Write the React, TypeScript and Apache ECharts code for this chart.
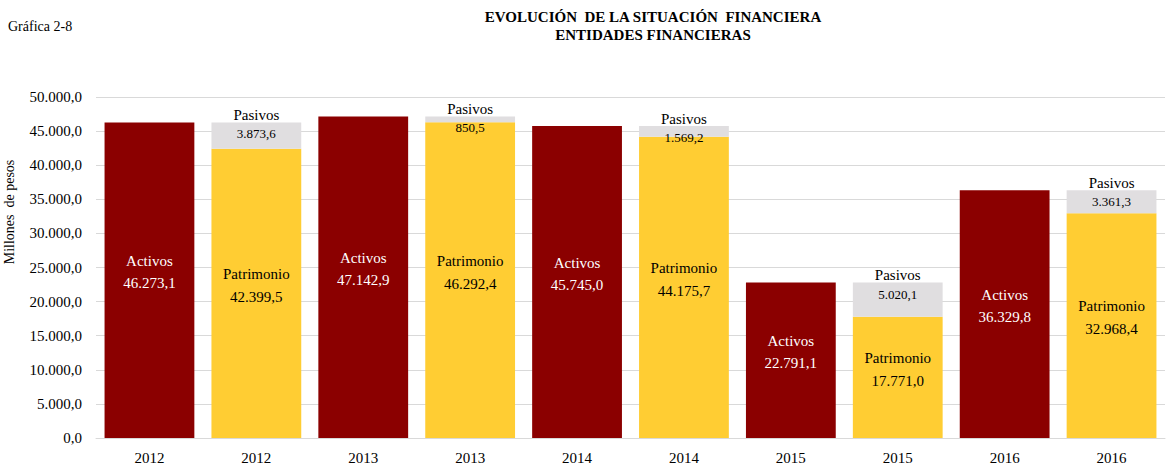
import React, { useEffect, useRef } from "react";
import * as echarts from "echarts";

const categories = ["2012", "2012", "2013", "2013", "2014", "2014", "2015", "2015", "2016", "2016"];
const activos = [46273.1, null, 47142.9, null, 45745.0, null, 22791.1, null, 36329.8, null];
const patrimonio = [null, 42399.5, null, 46292.4, null, 44175.7, null, 17771.0, null, 32968.4];
const pasivos = [null, 3873.6, null, 850.5, null, 1569.2, null, 5020.1, null, 3361.3];
const yTicks = { min: 0, max: 50000, interval: 5000 };

const FONT = "Liberation Serif";

function fmt(v: number, dec = 1): string {
  const s = v.toFixed(dec);
  const [i, d] = s.split(".");
  const ii = i.replace(/\B(?=(\d{3})+(?!\d))/g, ".");
  return d ? ii + "," + d : ii;
}

export default function App() {
  const ref = useRef<HTMLDivElement>(null);
  useEffect(() => {
    if (!ref.current) return;
    const chart = echarts.init(ref.current, null, { renderer: "svg" });
    chart.setOption({
      animation: false,
      backgroundColor: "#ffffff",
      textStyle: { fontFamily: FONT },
      graphic: [
        { type: "text", left: 8, top: 19, style: { text: "Gráfica 2-8", fontFamily: FONT, fontSize: 14, fill: "#000" } },
        {
          type: "text", x: 653, y: 9,
          style: { text: "EVOLUCIÓN  DE LA SITUACIÓN  FINANCIERA", fontFamily: FONT, fontSize: 15, fontWeight: "bold", fill: "#000", align: "center" },
        },
        {
          type: "text", x: 653, y: 27,
          style: { text: "ENTIDADES FINANCIERAS", fontFamily: FONT, fontSize: 15, fontWeight: "bold", fill: "#000", align: "center" },
        },
        {
          type: "text", x: 2, y: 212, rotation: Math.PI / 2,
          style: { text: "Millones  de pesos", fontFamily: FONT, fontSize: 14, fill: "#000", align: "center", verticalAlign: "top" },
        },
      ],
      grid: { left: 96, right: 5, top: 97, bottom: 30, containLabel: false },
      xAxis: {
        type: "category",
        data: categories,
        axisLine: { show: true, lineStyle: { color: "#D9D9D9" } },
        axisTick: { show: false },
        axisLabel: { fontFamily: FONT, fontSize: 15, color: "#000", margin: 12 },
      },
      yAxis: {
        type: "value",
        min: yTicks.min,
        max: yTicks.max,
        interval: yTicks.interval,
        axisLine: { show: false },
        axisTick: { show: false },
        splitLine: { lineStyle: { color: "#D9D9D9" } },
        axisLabel: { fontFamily: FONT, fontSize: 15, color: "#000", margin: 14, formatter: (v: number) => fmt(v) },
      },
      series: [
        {
          name: "Activos",
          type: "bar",
          stack: "s",
          barCategoryGap: "16%",
          data: activos,
          itemStyle: { color: "#8B0000" },
          label: {
            show: true,
            position: "inside",
            offset: [0, -8],
            formatter: (p: any) => `{a|Activos}\n{a|${fmt(p.value)}}`,
            rich: { a: { fontFamily: FONT, fontSize: 15, color: "#ffffff", lineHeight: 22 } },
          },
        },
        {
          name: "Patrimonio",
          type: "bar",
          stack: "s",
          barCategoryGap: "16%",
          data: patrimonio,
          itemStyle: { color: "#FFCD33" },
          label: {
            show: true,
            position: "inside",
            offset: [0, -8],
            formatter: (p: any) => `{a|Patrimonio}\n{a|${fmt(p.value)}}`,
            rich: { a: { fontFamily: FONT, fontSize: 15, color: "#000", lineHeight: 23 } },
          },
        },
        {
          name: "Pasivos",
          type: "bar",
          stack: "s",
          barCategoryGap: "16%",
          data: pasivos,
          itemStyle: { color: "#E0DEE0" },
          label: {
            show: true,
            position: ["50%", 0],
            align: "center",
            verticalAlign: "middle",
            offset: [0, 2],
            formatter: (p: any) => `{a|Pasivos}\n{b|${fmt(p.value)}}`,
            rich: {
              a: { fontFamily: FONT, fontSize: 15, color: "#000", lineHeight: 19, align: "center" },
              b: { fontFamily: FONT, fontSize: 13, color: "#000", lineHeight: 19, align: "center" },
            },
          },
        },
      ],
    });
    return () => chart.dispose();
  }, []);
  return <div ref={ref} style={{ width: 1170, height: 468, position: "absolute", left: 0, top: 0 }} />;
}
